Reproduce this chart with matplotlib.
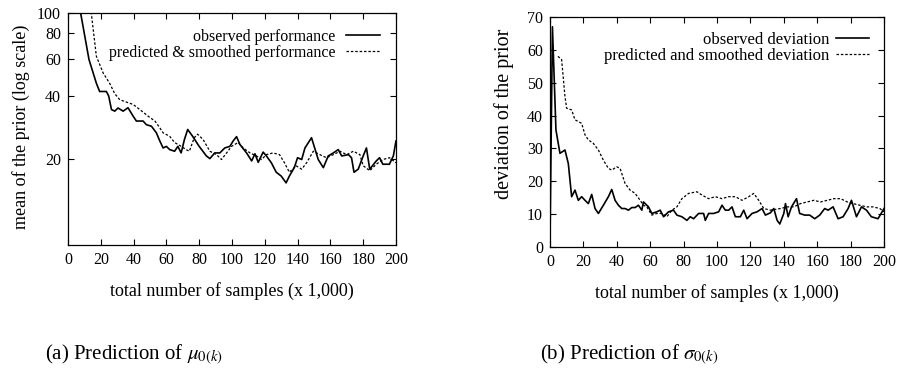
import matplotlib
matplotlib.use("Agg")
import matplotlib.pyplot as plt
from matplotlib.ticker import FixedLocator, NullLocator

plt.rcParams['font.family'] = ['Liberation Serif', 'DejaVu Serif']
plt.rcParams['mathtext.fontset'] = 'stix'

# ---- data: left panel (mean of the prior, log scale) ----
obs_mu_x = [4, 7.7, 12.8, 17.3, 19.3, 23.4, 24.8, 26.5, 28.5, 30.5, 33.6, 36.6, 39.7, 41.7, 45.8, 47.8,
            50.9, 53.9, 56, 58, 60, 62, 65, 67, 69, 71, 73, 76, 80, 84.4, 86.5, 89.5, 92.6, 95.6,
            98.7, 100.7, 102.8, 104.8, 108.9, 112, 114, 116, 119, 121, 124, 127, 130, 133, 135,
            138, 140, 142.5, 144.5, 148.5, 152.6, 155.7, 158.7, 161.8, 164.8, 166.9, 171, 172.9,
            174.4, 177, 180, 182, 184, 188, 190, 192, 196, 198.4, 200]
obs_mu_y = [160, 100, 59.8, 46, 42, 42, 40, 34.4, 33.8, 35, 33.8, 35.1, 32, 30.3, 30.3, 29.1,
            28.6, 26.6, 24.3, 22.5, 22.9, 22.1, 21.7, 22.9, 21.3, 24.7, 27.6, 25.6, 22.9, 20.6, 20,
            21.3, 21.3, 22.5, 22.9, 24.3, 25.5, 23.4, 21.3, 19.5, 21.1, 19.2, 21.5, 20.6, 19.1,
            17.2, 16.5, 15.3, 16.5, 18.1, 20.2, 19.8, 22.5, 25.2, 19.8, 18.1, 20.6, 21.3, 22.1,
            20.6, 20.9, 20.2, 17.2, 17.8, 20.6, 22.5, 17.8, 19.5, 20.2, 18.8, 18.8, 20.6, 24.3]
pred_mu_x = [10, 14.2, 17.3, 21.4, 25.4, 28.5, 31.5, 35, 39.7, 43.8, 48.8, 53, 56, 58, 62, 65, 69,
             72, 74, 77, 79, 82.4, 86.5, 90.6, 93.6, 96.7, 99.7, 103.8, 106.8, 111, 115, 118,
             121, 125, 129, 132, 135, 139, 142.5, 145.5, 149.6, 153.6, 157.6, 161.8, 165.9, 170,
             174, 178, 180, 184, 188, 192, 196, 200]
pred_mu_y = [150, 100, 62, 51.6, 46, 41, 38.4, 37.5, 36.4, 34.4, 32, 30.3, 28.1, 26.6, 25.6, 23.9,
             22.9, 22.1, 21.7, 25.2, 26.2, 24.7, 21.7, 20.9, 19.8, 21.3, 22.9, 23.9, 22.5, 21.3,
             20.6, 19.8, 20.9, 21.3, 20.9, 19.1, 17.2, 18.5, 17.8, 19.1, 21.7, 20.9, 20.2, 20.9,
             21.7, 20.9, 21.7, 20.9, 18.5, 17.5, 18.8, 19.8, 20.2, 19.1]

# ---- data: right panel (deviation of the prior) ----
obs_sd_x = [0, 1.5, 3.6, 6, 9, 11, 13, 15, 17, 19, 21, 23, 25, 27, 29, 32, 35, 37, 39, 41, 43, 45,
            47, 49, 51, 53, 55, 56, 59, 61, 64, 66, 68, 71, 74, 76, 79, 82, 84, 86, 89, 92, 93,
            95, 98, 101, 103, 105, 107, 109, 111, 114, 116, 118, 121, 124, 127, 129, 132, 134,
            136, 137.6, 140, 141, 142.6, 144.6, 147.6, 149.5, 152.5, 155.5, 158.5, 161.5, 164.5,
            166.5, 169.5, 172.5, 175.5, 178.5, 180.5, 183.5, 186.5, 189.5, 192.4, 196.4, 200]
obs_sd_y = [0, 67, 35.6, 28.5, 29.5, 25.4, 15.3, 17.3, 14.2, 15.3, 14.2, 13.2, 16, 11.7, 10.2,
            12.7, 15.3, 17.5, 14.2, 12.7, 11.7, 11.7, 11.2, 12, 12, 12.7, 11.2, 13.7, 12.2, 10.2,
            10.7, 11.2, 9.2, 10.7, 11.2, 9.7, 9.2, 8.1, 9.2, 8.6, 10.2, 10.2, 8.1, 10.2, 10.2,
            10.7, 12.7, 11.2, 11.2, 12.2, 9.2, 9.2, 11.2, 8.6, 10.2, 10.7, 11.7, 9.7, 10.4, 11.7,
            8.1, 7.0, 10.2, 13.2, 9.2, 12.2, 14.7, 10.2, 9.7, 9.7, 8.6, 9.7, 11.7, 11.2, 12.2,
            8.6, 9.2, 11.7, 14.2, 9.2, 12.2, 11.2, 9.2, 8.6, 11.7]
pred_sd_x = [4.8, 7, 9, 10, 13, 15, 19, 21, 23, 26, 29, 32, 35, 37, 40, 42, 45, 48, 51, 54, 56, 58,
             61, 64, 67, 70, 73, 76, 79, 83, 88, 91, 95, 99, 103, 107, 111, 115, 119, 122, 125,
             128, 132, 138, 142, 146, 150, 154, 158, 162, 166, 170, 174, 178, 181.5, 185.5,
             189.5, 193.4, 197.5, 200]
pred_sd_y = [58, 57, 45.8, 42.2, 41.7, 38.7, 37.6, 34.1, 32.6, 31.5, 29.5, 26.4, 23.9, 23.4, 24.4,
             23.9, 19.3, 17.3, 16.3, 14.2, 12.7, 12.2, 9.7, 10.2, 10.2, 9.2, 11.2, 12.2, 14.7,
             16.3, 16.8, 15.8, 14.7, 15.3, 14.7, 15.3, 15.3, 14.2, 15.3, 16.3, 14.2, 11.7, 11.2,
             11.7, 12.2, 12.2, 13.2, 13.7, 14.2, 13.7, 14.2, 14.7, 14.7, 13.7, 13.2, 12.7, 12.2,
             12.2, 11.7, 10.7]

x_ticks = [0, 20, 40, 60, 80, 100, 120, 140, 160, 180, 200]
mu_ticks = [20, 40, 60, 80, 100]
sd_ticks = [0, 10, 20, 30, 40, 50, 60, 70]

fig = plt.figure(figsize=(9.03, 3.90), dpi=100)
ax1 = fig.add_axes([0.0753, 0.3718, 0.3632, 0.5949])
ax2 = fig.add_axes([0.609, 0.3667, 0.370, 0.590])

fs_tick = 11.5
fs_leg = 11.5

for ax in (ax1, ax2):
    ax.tick_params(direction='in', top=True, right=True, length=4, width=0.8,
                   labelsize=fs_tick, pad=5)
    for s in ax.spines.values():
        s.set_linewidth(0.9)

# left panel
ax1.plot(obs_mu_x, obs_mu_y, color='black', lw=1.2, label='observed performance')
ax1.plot(pred_mu_x, pred_mu_y, color='black', lw=0.9, linestyle=(0, (2, 1.5)),
         label='predicted & smoothed performance')
ax1.set_yscale('log')
ax1.set_xlim(0, 200)
ax1.set_ylim(7.7, 100)
ax1.yaxis.set_major_locator(FixedLocator(mu_ticks))
ax1.yaxis.set_minor_locator(NullLocator())
ax1.set_yticklabels([str(t) for t in mu_ticks])
ax1.set_xticks(x_ticks)
ax1.set_ylabel('mean of the prior (log scale)', fontsize=13)
ax1.yaxis.set_label_coords(-0.115, 0.51)
ax1.set_xlabel('total number of samples (x 1,000)', fontsize=13, labelpad=10)
leg1 = ax1.legend(loc='upper right', frameon=False, markerfirst=False, fontsize=fs_leg,
                  handlelength=2.1, handletextpad=0.7, borderaxespad=0.6, labelspacing=0.0)

# right panel
ax2.plot(obs_sd_x, obs_sd_y, color='black', lw=1.2, label='observed deviation')
ax2.plot(pred_sd_x, pred_sd_y, color='black', lw=0.9, linestyle=(0, (2, 1.5)),
         label='predicted and smoothed deviation')
ax2.set_xlim(0, 200)
ax2.set_ylim(0, 70)
ax2.set_xticks(x_ticks)
ax2.set_yticks(sd_ticks)
ax2.set_ylabel('deviation of the prior', fontsize=14.5)
ax2.yaxis.set_label_coords(-0.107, 0.578)
ax2.set_xlabel('total number of samples (x 1,000)', fontsize=13, labelpad=10)
leg2 = ax2.legend(loc='upper right', frameon=False, markerfirst=False, fontsize=fs_leg + 0.5,
                  handlelength=2.0, handletextpad=0.4, borderaxespad=0.5, labelspacing=0.0)

# captions
fig.text(0.05, 0.077, r'(a) Prediction of $\mu_{0(k)}$', fontsize=15, ha='left', va='baseline')
fig.text(0.598, 0.077, r'(b) Prediction of $\sigma_{0(k)}$', fontsize=15, ha='left', va='baseline')

fig.savefig('out.png', dpi=100)
